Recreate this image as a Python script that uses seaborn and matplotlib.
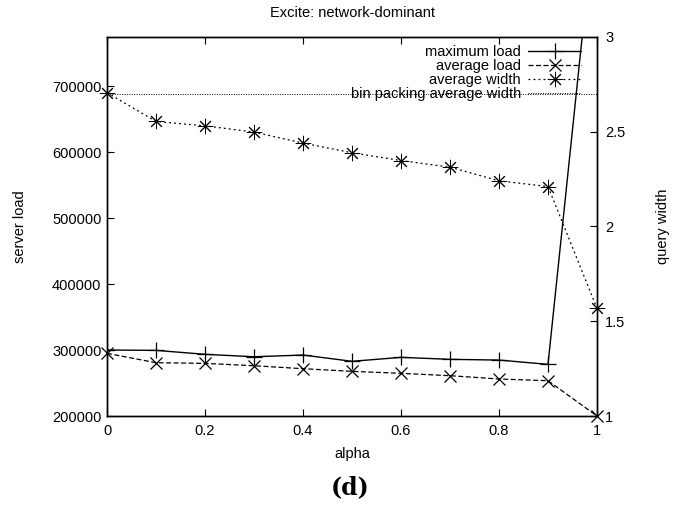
import matplotlib
matplotlib.use("Agg")
import matplotlib.pyplot as plt
from matplotlib.lines import Line2D
import seaborn as sns
import pandas as pd

alpha = [0.0, 0.1, 0.2, 0.3, 0.4, 0.5, 0.6, 0.7, 0.8, 0.9, 1.0]
max_load = [300000, 299500, 293500, 289800, 292400, 282900, 288900, 285900, 284800, 278300, 990000]
avg_load = [295000, 280800, 279800, 276200, 271700, 267700, 264700, 261100, 256100, 253500, 200000]
avg_width = [2.705, 2.553, 2.530, 2.497, 2.439, 2.388, 2.347, 2.312, 2.240, 2.210, 1.567]
bin_packing_width = 2.697

xticks = [0, 0.2, 0.4, 0.6, 0.8, 1]
xticklabels = ["0", "0.2", "0.4", "0.6", "0.8", "1"]
yticks = [200000, 300000, 400000, 500000, 600000, 700000]
y2ticks = [1, 1.5, 2, 2.5, 3]
y2ticklabels = ["1", "1.5", "2", "2.5", "3"]

sns.set_style("ticks", {"axes.edgecolor": "black", "text.color": "black",
                        "xtick.color": "black", "ytick.color": "black",
                        "axes.labelcolor": "black"})
plt.rcParams['font.family'] = ['Liberation Sans', 'DejaVu Sans']
FS = 10.5

df = pd.DataFrame({"alpha": alpha, "max_load": max_load, "avg_load": avg_load, "avg_width": avg_width})

fig = plt.figure(figsize=(6.81, 5.08), dpi=100)
ax = fig.add_axes([107/681, 1-416/508, (597-107)/681, (416-36.7)/508])
ax2 = ax.twinx()

star = (8, 2, 0)
sns.lineplot(data=df, x="alpha", y="max_load", ax=ax, color="black", lw=1.0,
             marker="+", markersize=11, markeredgewidth=0.9, markeredgecolor="black",
             linestyle="-")
sns.lineplot(data=df, x="alpha", y="avg_load", ax=ax, color="black", lw=0.9,
             marker="x", markersize=8, markeredgewidth=0.9, markeredgecolor="black",
             dashes=False, linestyle=(0, (4, 2)), clip_on=False)
sns.lineplot(data=df, x="alpha", y="avg_width", ax=ax2, color="black", lw=0.9,
             marker=star, markersize=11, markeredgewidth=0.7, markeredgecolor="black",
             dashes=False, linestyle=(0, (1.5, 2.5)), clip_on=False)
ax2.axhline(bin_packing_width, color="black", lw=0.7, linestyle=(0, (1, 1.5)))

ax.set_xlim(0, 1)
ax.set_ylim(200000, 775000)
ax2.set_ylim(1, 3)
ax.set_xticks(xticks)
ax.set_xticklabels(xticklabels, fontsize=FS)
ax.set_yticks(yticks)
ax.set_yticklabels([str(v) for v in yticks], fontsize=FS)
ax2.set_yticks(y2ticks)
ax2.set_yticklabels(y2ticklabels, fontsize=FS)

ax.tick_params(axis="x", direction="in", length=5, width=0.8, top=True, pad=6, colors="black")
ax.tick_params(axis="y", direction="in", length=5, width=0.8, right=False, pad=4, colors="black")
ax2.tick_params(axis="y", direction="in", length=5, width=0.8, pad=6, colors="black")
for a in (ax, ax2):
    for s in a.spines.values():
        s.set_linewidth(1.0)
        s.set_color("black")
        s.set_visible(True)

ax.set_xlabel("alpha", fontsize=FS, labelpad=6, color="black")
ax.set_ylabel("server load", fontsize=FS, labelpad=18, color="black")
ax2.set_ylabel("query width", fontsize=FS, labelpad=22, color="black")
ax.set_title("Excite: network-dominant", fontsize=FS, pad=14, color="black")

handles = [
    Line2D([], [], color="black", lw=1.0, marker="+", markersize=11, markeredgewidth=0.9),
    Line2D([], [], color="black", lw=0.9, marker="x", markersize=8, markeredgewidth=0.9, linestyle=(0, (4, 2))),
    Line2D([], [], color="black", lw=0.9, marker=star, markersize=11, markeredgewidth=0.7, linestyle=(0, (1.5, 2.5))),
    Line2D([], [], color="black", lw=0.7, linestyle=(0, (1, 1.5))),
]
labels = ["maximum load", "average load", "average width", "bin packing average width"]
leg = ax2.legend(handles, labels, loc="upper right", frameon=False, markerfirst=False,
                 fontsize=FS, labelspacing=0.0, handlelength=3.6, handletextpad=0.5,
                 borderaxespad=0.2, bbox_to_anchor=(0.985, 1.0))
for t in leg.get_texts():
    t.set_color("black")

fig.text(350/681, 1-487/508, "(d)", fontsize=17, fontweight="bold",
         family=["DejaVu Serif"], ha="center", va="center", color="black")

fig.savefig("out.png", dpi=100)
